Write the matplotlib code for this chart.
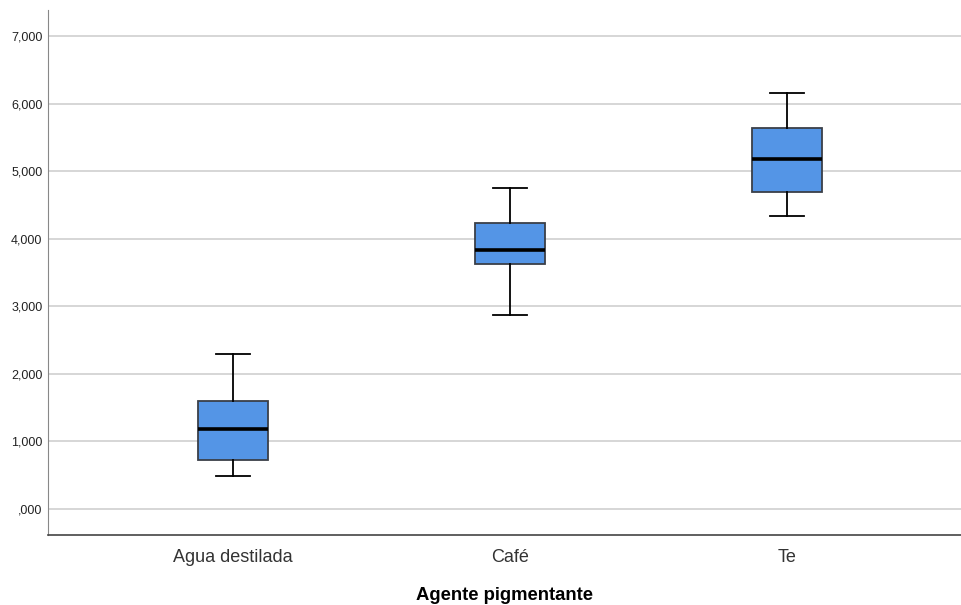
import matplotlib.pyplot as plt

plt.rcParams["font.family"] = ["Liberation Sans", "DejaVu Sans"]

categories = ["Agua destilada", "Café", "Te"]
whis_low = [0.49, 2.87, 4.34]
q1 = [0.73, 3.63, 4.69]
median = [1.18, 3.83, 5.18]
q3 = [1.60, 4.23, 5.64]
whis_high = [2.29, 4.75, 6.16]
yticks = [0, 1, 2, 3, 4, 5, 6, 7]
ytick_labels = [",000", "1,000", "2,000", "3,000", "4,000", "5,000", "6,000", "7,000"]

fig = plt.figure(figsize=(9.61, 6.05), dpi=100)
ax = fig.add_axes([48 / 961, 70 / 605, 1 - 48 / 961, 525 / 605])

stats = []
for i, c in enumerate(categories):
    stats.append(dict(label=c, whislo=whis_low[i], q1=q1[i], med=median[i],
                      q3=q3[i], whishi=whis_high[i], fliers=[]))

ax.bxp(stats, positions=range(len(categories)), widths=0.25, patch_artist=True,
       showfliers=False,
       boxprops=dict(facecolor="#5495e6", edgecolor="#3a3f48", linewidth=1.3),
       medianprops=dict(color="black", linewidth=2.6),
       whiskerprops=dict(color="black", linewidth=1.3),
       capprops=dict(color="black", linewidth=1.3),
       capwidths=0.125, zorder=3)

ax.set_xlim(-0.668, 2.628)
ax.set_ylim(-0.385, 7.385)
ax.set_yticks(yticks)
ax.set_yticklabels(ytick_labels, fontsize=9, color="#222222")
ax.grid(axis="y", color="#cfcfcf", linewidth=1.2, zorder=0)
ax.set_axisbelow(True)
ax.tick_params(axis="both", length=0)
ax.tick_params(axis="x", labelsize=13, labelcolor="#333333", pad=10)
ax.tick_params(axis="y", pad=4)

for s in ["top", "right"]:
    ax.spines[s].set_visible(False)
ax.spines["left"].set_color("#888888")
ax.spines["bottom"].set_color("#444444")
ax.spines["bottom"].set_linewidth(1.2)

ax.set_xlabel("Agente pigmentante", fontsize=13.3, fontweight="bold", labelpad=15)

fig.savefig("out.png", dpi=100)
